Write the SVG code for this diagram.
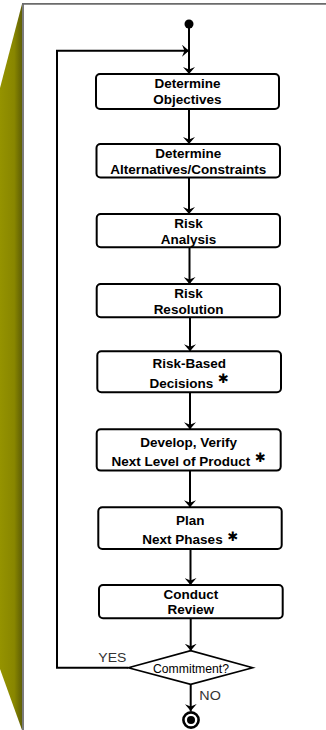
<svg xmlns="http://www.w3.org/2000/svg" width="326" height="730" viewBox="0 0 326 730">
<defs>
<linearGradient id="olive" x1="0" y1="0" x2="1" y2="0">
<stop offset="0" stop-color="#959300"/>
<stop offset="0.65" stop-color="#888600"/>
<stop offset="1" stop-color="#5f5f05"/>
</linearGradient>
<marker id="arr" markerUnits="userSpaceOnUse" markerWidth="7" markerHeight="12" refX="7" refY="6" orient="auto" viewBox="0 0 7 12">
<path d="M0,0 L7,6 L0,12 L2.5,6 z" fill="#000"/>
</marker>
<style>
.box{fill:#fff;stroke:#000;stroke-width:2}
.t{font-family:"Liberation Sans",Arial,sans-serif;font-weight:bold;font-size:13.5px;fill:#000;text-anchor:middle}
.ast{font-family:"DejaVu Sans",sans-serif;font-size:13px;fill:#000;text-anchor:middle}
.lbl{font-family:"Liberation Sans",Arial,sans-serif;font-size:13px;fill:#333}
.c{fill:none;stroke:#000;stroke-width:2}
</style>
</defs>
<rect x="0" y="0" width="326" height="730" fill="#fff"/>
<polygon points="22,4 0,88 0,669 22,730" fill="url(#olive)"/>
<line x1="23" y1="4" x2="23" y2="730" stroke="#6b6b6b" stroke-width="1.8"/>
<line x1="22" y1="3.8" x2="326" y2="3.8" stroke="#6b6b6b" stroke-width="1.8"/>

<g id="connectors">
<line class="c" x1="189" y1="28" x2="189" y2="74" marker-end="url(#arr)"/>
<polyline class="c" points="128.3,667.7 57,667.7 57,50.7 189,50.7" marker-end="url(#arr)"/>
<line class="c" x1="189" y1="109" x2="189" y2="144" marker-end="url(#arr)"/>
<line class="c" x1="189" y1="177.5" x2="189" y2="214" marker-end="url(#arr)"/>
<line class="c" x1="189.5" y1="247.3" x2="189.5" y2="284" marker-end="url(#arr)"/>
<line class="c" x1="190" y1="317.3" x2="190" y2="351.3" marker-end="url(#arr)"/>
<line class="c" x1="190" y1="392.3" x2="190" y2="429.3" marker-end="url(#arr)"/>
<line class="c" x1="190" y1="470.7" x2="190" y2="507.3" marker-end="url(#arr)"/>
<line class="c" x1="190.5" y1="549" x2="190.5" y2="585" marker-end="url(#arr)"/>
<line class="c" x1="190.7" y1="618.3" x2="190.7" y2="650.7" marker-end="url(#arr)"/>
<line class="c" x1="190.7" y1="684.3" x2="190.7" y2="711" marker-end="url(#arr)"/>
<text class="lbl" x="98.3" y="661.7" textLength="28" lengthAdjust="spacingAndGlyphs">YES</text>
<text class="lbl" x="199.3" y="700" textLength="21.5" lengthAdjust="spacingAndGlyphs">NO</text>
</g>

<g id="start"><circle cx="189" cy="24" r="4.5" fill="#000"/></g>

<g id="n1">
<rect class="box" x="96" y="74" width="183" height="35" rx="4"/>
<text class="t" x="187.5" y="88.3">Determine</text>
<text class="t" x="187.5" y="104.3">Objectives</text>
</g>
<g id="n2">
<rect class="box" x="96.5" y="144" width="183.5" height="33.5" rx="4"/>
<text class="t" x="188.3" y="157.7">Determine</text>
<text class="t" x="188.3" y="174">Alternatives/Constraints</text>
</g>
<g id="n3">
<rect class="box" x="96.7" y="214" width="183.3" height="33.3" rx="4"/>
<text class="t" x="188.5" y="228.3">Risk</text>
<text class="t" x="188.5" y="244">Analysis</text>
</g>
<g id="n4">
<rect class="box" x="96.7" y="284" width="183.3" height="33.3" rx="4"/>
<text class="t" x="188.5" y="298.3">Risk</text>
<text class="t" x="188.5" y="314.3">Resolution</text>
</g>
<g id="n5">
<rect class="box" x="97.3" y="351.3" width="183.7" height="41" rx="4"/>
<text class="t" x="189.3" y="367.7">Risk-Based</text>
<text class="t" x="181.3" y="387.7">Decisions</text>
<text class="ast" x="223.5" y="383">✱</text>
</g>
<g id="n6">
<rect class="box" x="96.7" y="429.3" width="184" height="41.3" rx="4"/>
<text class="t" x="188.7" y="447">Develop, Verify</text>
<text class="t" x="180.8" y="465.7">Next Level of Product</text>
<text class="ast" x="260.5" y="461.5">✱</text>
</g>
<g id="n7">
<rect class="box" x="98.3" y="507.3" width="183.4" height="41.7" rx="4"/>
<text class="t" x="190.3" y="525">Plan</text>
<text class="t" x="182.5" y="543.7">Next Phases</text>
<text class="ast" x="233" y="541">✱</text>
</g>
<g id="n8">
<rect class="box" x="99" y="585" width="183.7" height="33.3" rx="4"/>
<text class="t" x="190.8" y="599">Conduct</text>
<text class="t" x="190.8" y="614.3">Review</text>
</g>
<g id="decision">
<polygon points="128.3,667.7 190.7,650.7 252.7,667.7 190.7,684.3" fill="#fff" stroke="#000" stroke-width="1.6"/>
<text x="153" y="673.3" font-family="Liberation Sans, Arial, sans-serif" font-size="13" fill="#000" textLength="76" lengthAdjust="spacingAndGlyphs">Commitment?</text>
</g>
<g id="end">
<circle cx="191" cy="720" r="7.6" fill="#fff" stroke="#000" stroke-width="2.6"/>
<circle cx="191" cy="720" r="4" fill="#000"/>
</g>
</svg>
